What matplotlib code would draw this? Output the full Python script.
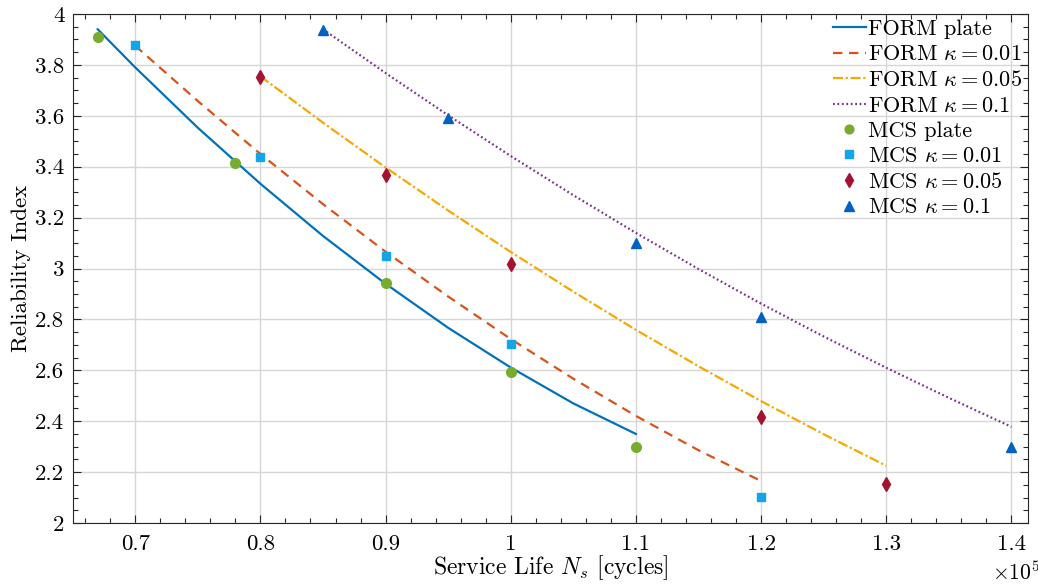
import matplotlib
matplotlib.use("Agg")
import matplotlib.pyplot as plt
from matplotlib.ticker import MultipleLocator, FuncFormatter

plt.rcParams["font.family"] = "cmr10"
plt.rcParams["mathtext.fontset"] = "cm"
plt.rcParams["axes.formatter.use_mathtext"] = True

# service life in units of 1e5 cycles
form_plate_n = [0.67, 0.70, 0.75, 0.80, 0.85, 0.90, 0.95, 1.00, 1.05, 1.10]
form_plate_b = [3.94, 3.79, 3.553, 3.333, 3.128, 2.940, 2.767, 2.611, 2.470, 2.350]

form_k001_n = [0.70, 0.75, 0.80, 0.85, 0.90, 0.95, 1.00, 1.05, 1.10, 1.15, 1.20]
form_k001_b = [3.875, 3.658, 3.450, 3.253, 3.066, 2.890, 2.723, 2.567, 2.421, 2.286, 2.165]

form_k005_n = [0.80, 0.85, 0.90, 0.95, 1.00, 1.05, 1.10, 1.15, 1.20, 1.25, 1.30]
form_k005_b = [3.755, 3.573, 3.397, 3.228, 3.065, 2.909, 2.759, 2.616, 2.479, 2.349, 2.225]

form_k01_n = [0.85, 0.90, 0.95, 1.00, 1.05, 1.10, 1.15, 1.20, 1.25, 1.30, 1.35, 1.40]
form_k01_b = [3.94, 3.768, 3.602, 3.442, 3.288, 3.140, 2.998, 2.862, 2.733, 2.610, 2.492, 2.378]

mcs_plate_n = [0.67, 0.78, 0.90, 1.00, 1.10]
mcs_plate_b = [3.91, 3.413, 2.943, 2.594, 2.30]

mcs_k001_n = [0.70, 0.80, 0.90, 1.00, 1.20]
mcs_k001_b = [3.878, 3.438, 3.051, 2.705, 2.103]

mcs_k005_n = [0.80, 0.90, 1.00, 1.20, 1.30]
mcs_k005_b = [3.752, 3.366, 3.016, 2.417, 2.154]

mcs_k01_n = [0.85, 0.95, 1.10, 1.20, 1.40]
mcs_k01_b = [3.937, 3.59, 3.102, 2.811, 2.299]


def main():
    fig = plt.figure(figsize=(10.38, 5.88), dpi=100)
    ax = fig.add_axes([0.0700, 0.1105, 0.9204, 0.8657])

    ax.plot(form_plate_n, form_plate_b, "-", color="#0072BD", lw=1.6, label="FORM plate")
    ax.plot(form_k001_n, form_k001_b, "--", color="#D95319", lw=1.6,
            dashes=(4.2, 3.0), label=r"FORM $\kappa = 0.01$")
    ax.plot(form_k005_n, form_k005_b, "-.", color="#F7A800", lw=1.6,
            dashes=(4.5, 1.2, 1.0, 1.2), label=r"FORM $\kappa = 0.05$")
    ax.plot(form_k01_n, form_k01_b, ":", color="#7E2F8E", lw=1.6,
            dashes=(0.8, 1.2), label=r"FORM $\kappa = 0.1$")

    ax.plot(mcs_plate_n, mcs_plate_b, "o", color="#77AC30", ms=7, ls="none", label="MCS plate")
    ax.plot(mcs_k001_n, mcs_k001_b, "s", color="#12A5E8", ms=6, ls="none",
            label=r"MCS $\kappa = 0.01$")
    ax.plot(mcs_k005_n, mcs_k005_b, "d", color="#A2142F", ms=7.5, ls="none",
            label=r"MCS $\kappa = 0.05$")
    ax.plot(mcs_k01_n, mcs_k01_b, "^", color="#0062C0", ms=7.5, ls="none",
            label=r"MCS $\kappa = 0.1$")

    ax.set_xlim(0.65, 1.4133)
    ax.set_ylim(2, 4)
    ax.xaxis.set_major_locator(MultipleLocator(0.1))
    ax.xaxis.set_minor_locator(MultipleLocator(0.02))
    ax.yaxis.set_major_locator(MultipleLocator(0.2))
    ax.yaxis.set_minor_locator(MultipleLocator(0.05))
    ax.xaxis.set_major_formatter(FuncFormatter(lambda v, p: f"{round(v, 2):g}"))
    ax.yaxis.set_major_formatter(FuncFormatter(lambda v, p: f"{round(v, 2):g}"))

    ax.tick_params(which="both", direction="in", top=True, right=True,
                   labelsize=16.5, width=0.8, colors="#262626", labelcolor="black")
    ax.tick_params(which="major", length=6)
    ax.tick_params(which="minor", length=3.5)
    ax.tick_params(axis="x", pad=8)
    ax.tick_params(axis="y", pad=6)
    for s in ax.spines.values():
        s.set_linewidth(0.8)
        s.set_color("#262626")
    ax.grid(True, which="major", color="#d6d6d6", lw=1.0)
    ax.set_axisbelow(True)

    ax.set_xlabel(r"Service Life $N_s$ [cycles]", fontsize=17, labelpad=0)
    ax.set_ylabel("Reliability Index", fontsize=16.5, labelpad=3)
    ax.text(1.012, -0.074, r"$\times10^5$", transform=ax.transAxes,
            ha="right", va="top", fontsize=15.5)

    ax.legend(loc="upper right", frameon=False, fontsize=16, handlelength=1.5,
              handletextpad=0.1, labelspacing=0.26, borderaxespad=0.05,
              borderpad=0.2, markerscale=0.9)

    fig.savefig("out.png", dpi=100)
    plt.close(fig)


if __name__ == "__main__":
    main()
